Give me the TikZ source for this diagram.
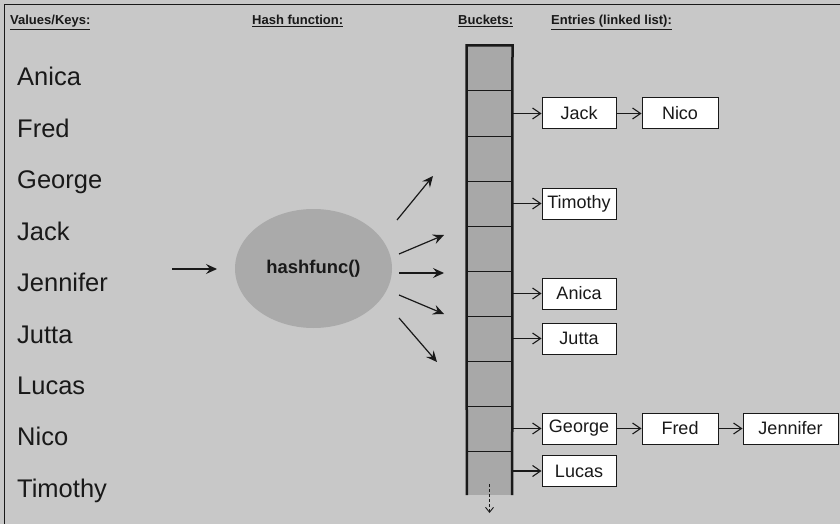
\documentclass[tikz,border=0pt]{standalone}
\usepackage{fontspec}
\setmainfont{Liberation Sans}
\usetikzlibrary{arrows.meta,shapes.geometric}
\definecolor{bg}{RGB}{200,200,200}
\definecolor{cellgray}{RGB}{168,168,168}
\definecolor{ellgray}{RGB}{170,170,170}
\definecolor{ink}{RGB}{25,25,25}
\tikzset{
  keytext/.style={anchor=base west,inner sep=0pt,font=\fontsize{25.5}{30}\selectfont,text=ink},
  header/.style={anchor=base west,inner sep=0pt,font=\fontsize{13}{15}\selectfont\bfseries,text=ink},
  cell/.style={draw=ink,line width=1pt,fill=cellgray,minimum width=45pt,minimum height=45pt,inner sep=0pt},
  entry/.style={draw=ink,line width=1pt,fill=white,minimum height=31pt,inner sep=0pt,font=\fontsize{18}{20}\selectfont,text=ink},
  link/.style={draw=ink,line width=1.1pt,-{Straight Barb[length=8pt,width=11pt,line width=1.1pt]}},
  hasharrow/.style={draw=ink,line width=1.2pt,-{Stealth[length=11pt,width=10pt,inset=4pt]}},
}
\begin{document}
\begin{tikzpicture}[x=1pt,y=-1pt]
\useasboundingbox (0,0) rectangle (840,524);
\fill[bg] (0,0) rectangle (840,524);
\draw[ink,line width=1.5pt] (4.5,524) -- (4.5,4.5) -- (840,4.5);

% headers
\node[header] (h1) at (10,25) {\underline{Values/Keys:}};
\node[header] (h2) at (252,25) {\underline{Hash function:}};
\node[header] (h3) at (458,25) {\underline{Buckets:}};
\node[header] (h4) at (551,25) {\underline{Entries (linked list):}};

% keys
\foreach \k [count=\i from 0] in {Anica,Fred,George,Jack,Jennifer,Jutta,Lucas,Nico,Timothy}
  \node[keytext] (key\i) at (17,86+51.4*\i) {\k};

% hash function
\node[ellipse,fill=ellgray,minimum width=157pt,minimum height=119pt,inner sep=0pt,
      font=\fontsize{18.4}{20}\selectfont\bfseries,text=ink] (hash) at (313.5,268.5) {hashfunc()};

% buckets
\node[fill=cellgray,minimum width=45pt,minimum height=44pt,inner sep=0pt] (b9) at (489.5,473) {};
\foreach \i in {0,...,8}
  \node[cell] (b\i) at (489.5,68.5+45*\i) {};
\draw[ink,line width=2.5pt] (b9.south west) -- (b0.north west) -- (b0.north east) -- (b9.south east);

% input arrow
\coordinate (in1) at (172,269);
\coordinate (in2) at (217,269);
\draw[hasharrow] (in1) -- (in2);

% output arrows
\coordinate (o1s) at (397,220); \coordinate (o1e) at (433,176);
\coordinate (o2s) at (399,254); \coordinate (o2e) at (444,235);
\coordinate (o3s) at (399,273); \coordinate (o3e) at (444,273);
\coordinate (o4s) at (399,295); \coordinate (o4e) at (444,314);
\coordinate (o5s) at (399,318); \coordinate (o5e) at (437,362);
\foreach \j in {1,...,5} \draw[hasharrow] (o\j s) -- (o\j e);

% entries
\node[entry,minimum width=74pt] (jack) at (579,113.5) {Jack};
\node[entry,minimum width=76pt] (nico) at (680,113.5) {Nico};
\node[entry,minimum width=74pt] (timothy) at (579,203.5) {Timothy};
\node[entry,minimum width=74pt] (anica) at (579,293.5) {Anica};
\node[entry,minimum width=74pt] (jutta) at (579,338.5) {Jutta};
\node[entry,minimum width=74pt] (george) at (579,428.5) {George};
\node[entry,minimum width=76pt] (fred) at (680,428.5) {Fred};
\node[entry,minimum width=95pt] (jennifer) at (790.5,428.5) {Jennifer};
\node[entry,minimum width=74pt] (lucas) at (579,471) {Lucas};

\draw[link] (b1.east) -- (jack.west);
\draw[link] (jack.east) -- (nico.west);
\draw[link] (b3.east) -- (timothy.west);
\draw[link] (b5.east) -- (anica.west);
\draw[link] (b6.east) -- (jutta.west);
\draw[link] (b8.east) -- (george.west);
\draw[link] (george.east) -- (fred.west);
\draw[link] (fred.east) -- (jennifer.west);
\draw[link] (b9.east |- lucas.west) -- (lucas.west);

% continuation
\coordinate (d1) at (489.5,484);
\coordinate (d2) at (489.5,513);
\draw[ink,line width=0.9pt,dash pattern=on 3pt off 2pt,-{Straight Barb[length=5pt,width=8pt,line width=0.9pt]}] (d1) -- (d2);
\end{tikzpicture}
\end{document}
